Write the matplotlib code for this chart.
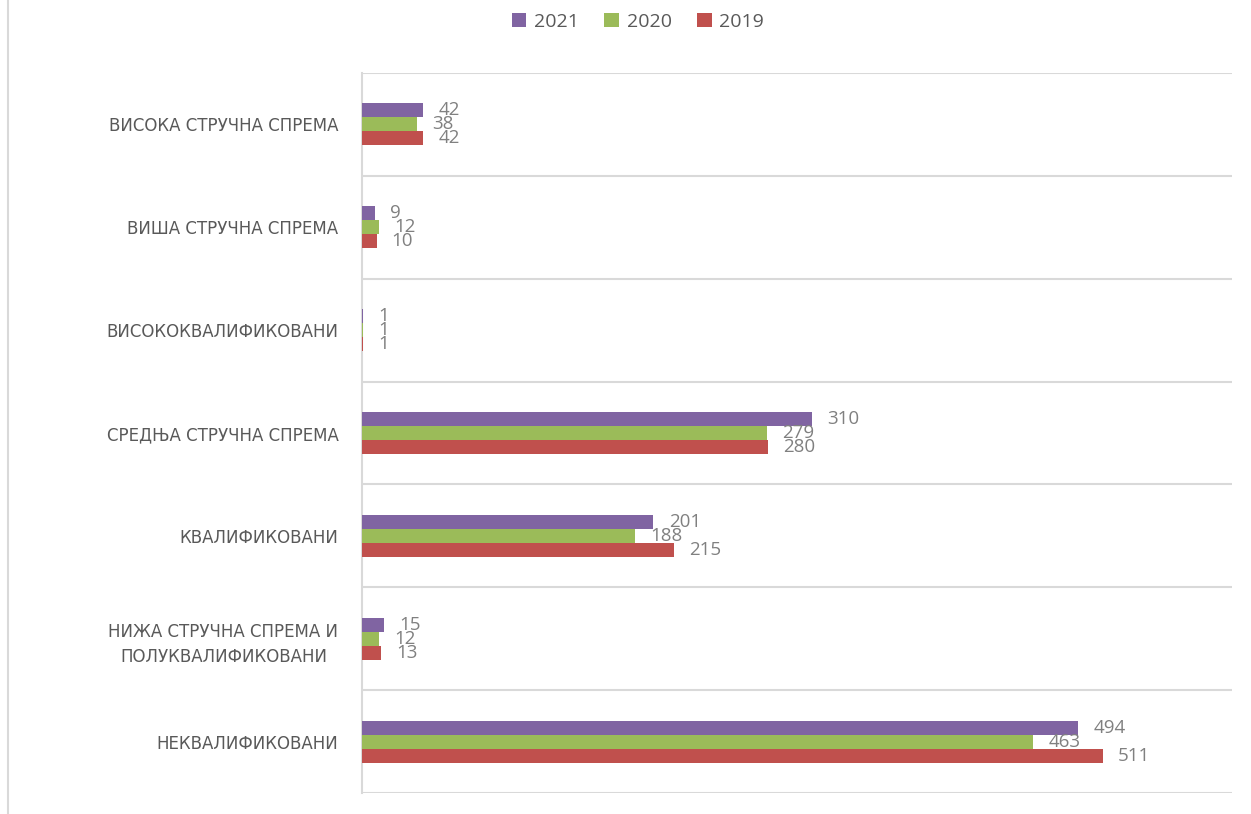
import matplotlib
matplotlib.use("Agg")
import matplotlib.pyplot as plt
from matplotlib.patches import Patch
import numpy as np

categories = [
    "НЕКВАЛИФИКОВАНИ",
    "НИЖА СТРУЧНА СПРЕМА И\nПОЛУКВАЛИФИКОВАНИ",
    "КВАЛИФИКОВАНИ",
    "СРЕДЊА СТРУЧНА СПРЕМА",
    "ВИСОКОКВАЛИФИКОВАНИ",
    "ВИША СТРУЧНА СПРЕМА",
    "ВИСОКА СТРУЧНА СПРЕМА",
]
v2021 = [494, 15, 201, 310, 1, 9, 42]
v2020 = [463, 12, 188, 279, 1, 12, 38]
v2019 = [511, 13, 215, 280, 1, 10, 42]
series_names = ["2021", "2020", "2019"]
colors = ["#8064A2", "#9BBB59", "#C0504D"]

fig = plt.figure(figsize=(12.51, 8.14), dpi=100)
ax = fig.add_axes([362/1251, 1-793/814, (1232-362)/1251, (793-73)/814])

y = np.arange(len(categories))
h = 0.136
offsets = [h, 0, -h]
for vals, name, col, off in zip([v2021, v2020, v2019], series_names, colors, offsets):
    bars = ax.barh(y + off, vals, height=h, color=col, label=name, zorder=3)
    for b, v in zip(bars, vals):
        ax.annotate(str(v), (b.get_width(), b.get_y() + b.get_height()/2),
                    xytext=(11, 0), textcoords="offset points",
                    ha="left", va="center", fontsize=13.5, color="#808080",
                    family="Open Sans", zorder=4)

ax.set_xlim(0, 600)
ax.set_ylim(-0.5, len(categories) - 0.5)
for g in np.arange(-0.5, len(categories), 1.0):
    ax.axhline(g, color="#D9D9D9", lw=1.5, zorder=1)
ax.set_xticks([])
ax.set_yticks(y)
ax.set_yticklabels(categories, fontsize=12, color="#595959", family="DejaVu Sans",
                   multialignment="center", linespacing=1.55)
ax.tick_params(axis="y", length=0, pad=17)
for s in ["top", "right", "bottom"]:
    ax.spines[s].set_visible(False)
ax.spines["left"].set_color("#D9D9D9")
ax.spines["left"].set_linewidth(1.5)

handles = [Patch(facecolor=c, label=n) for c, n in zip(colors, series_names)]
fig.legend(handles=handles, loc="center", bbox_to_anchor=(0.51, 1-22/814), ncol=3,
           frameon=False, prop={"family": "Open Sans", "size": 14},
           labelcolor="#595959", handlelength=0.75, handleheight=0.75,
           handletextpad=0.4, columnspacing=1.3)

fig.add_artist(plt.Line2D([8/1251, 8/1251], [0, 1], transform=fig.transFigure,
                          color="#D9D9D9", lw=1.5))

fig.savefig("out.png", dpi=100)
